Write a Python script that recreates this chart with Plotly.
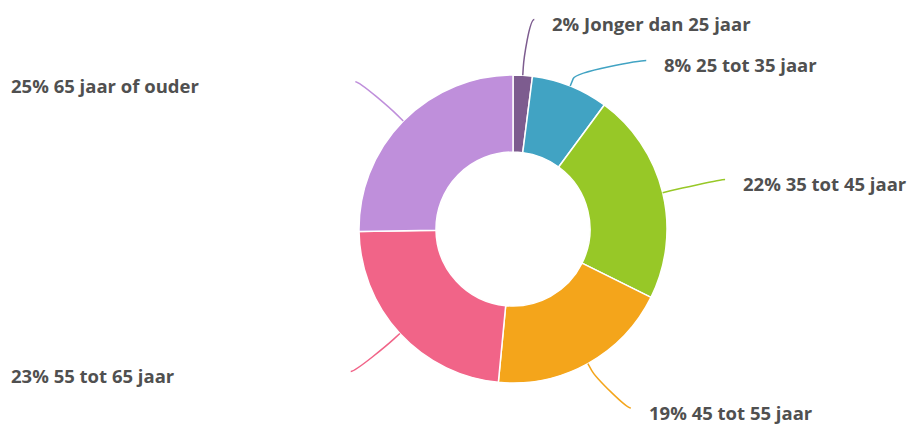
import math

import plotly.graph_objects as go

# Leeftijdsverdeling (donut)
categorieen = [
    "Jonger dan 25 jaar",
    "25 tot 35 jaar",
    "35 tot 45 jaar",
    "45 tot 55 jaar",
    "55 tot 65 jaar",
    "65 jaar of ouder",
]
waarden = [2, 8, 22, 19, 23, 25]
kleuren = ["#7d5c8f", "#41a3c3", "#97c827", "#f4a51b", "#f16488", "#bf8fdb"]

W, H = 915, 424
OFF = 8                         # de pagina zelf heeft 8px body-marge
CX, CY, R = 513 - OFF, 229 - OFF, 154   # middelpunt en straal in pixels
R_LABEL = 210                   # afstand van de labels tot het middelpunt
PAD = 8
GAP = 41                        # minimale verticale afstand tussen labels
Y_MAX = H - 24                  # labels niet lager dan dit
TXT = "#505050"
FONT = "Open Sans"


def px(x, y):
    """Pixel -> paper-coördinaten (marges zijn 0)."""
    return x / W, 1 - y / H


fig = go.Figure(
    go.Pie(
        labels=categorieen,
        values=waarden,
        hole=0.5,
        sort=False,
        direction="clockwise",
        rotation=0,
        marker=dict(colors=kleuren, line=dict(color="white", width=1.5)),
        textinfo="none",
        domain=dict(x=[(CX - R) / W, (CX + R) / W], y=[(H - CY - R) / H, (H - CY + R) / H]),
    )
)

# Labelposities berekenen uit de hoeken van de segmenten
totaal = sum(waarden)
cum = 0
punten = []
for i, v in enumerate(waarden):
    mid = (cum + v / 2) / totaal * 2 * math.pi
    cum += v
    dx, dy = math.sin(mid), -math.cos(mid)
    punten.append(dict(i=i, dx=dx, dy=dy, left=dx < 0, y=min(CY + R_LABEL * dy, Y_MAX)))

for kant in (False, True):
    groep = sorted([p for p in punten if p["left"] == kant], key=lambda p: p["y"])
    for a, b in zip(groep, groep[1:]):
        b["y"] = max(b["y"], a["y"] + GAP)

for p in punten:
    i, left = p["i"], p["left"]
    s = -1 if left else 1
    ly = p["y"]
    hoek = math.asin(max(-1, min(1, (ly - CY) / R_LABEL)))
    lx = CX + s * (math.cos(hoek) * R_LABEL + PAD)
    tx, ty = CX + R * p["dx"], CY + R * p["dy"]
    bx, by = CX + (R + 8) * p["dx"], CY + (R + 8) * p["dy"]
    c2x, c2y = 2 * bx - tx, 2 * by - ty
    c1x = lx - s * 5
    pts = [(lx, ly), (c1x, ly), (c2x, c2y), (bx, by), (tx, ty)]
    q = [px(*pt) for pt in pts]
    path = (
        f"M {q[0][0]},{q[0][1]} C {q[1][0]},{q[1][1]} {q[2][0]},{q[2][1]} {q[3][0]},{q[3][1]} "
        f"L {q[4][0]},{q[4][1]}"
    )
    fig.add_shape(type="path", path=path, xref="paper", yref="paper",
                  line=dict(color=kleuren[i], width=1.5))

    tekst = f"<b>{waarden[i]}% {categorieen[i]}</b>"
    if left:
        ax, ay = px(9 - OFF, ly + 4)
    else:
        ax, ay = px(lx + 16, ly + 4)
    fig.add_annotation(
        x=ax, y=ay, xref="paper", yref="paper", text=tekst, showarrow=False,
        xanchor="left", yanchor="middle",
        font=dict(family=FONT, size=18.5, color=TXT),
    )

fig.update_layout(
    width=W, height=H,
    margin=dict(l=0, r=0, t=0, b=0),
    paper_bgcolor="white",
    plot_bgcolor="white",
    showlegend=False,
)

fig.write_html("out.html")
